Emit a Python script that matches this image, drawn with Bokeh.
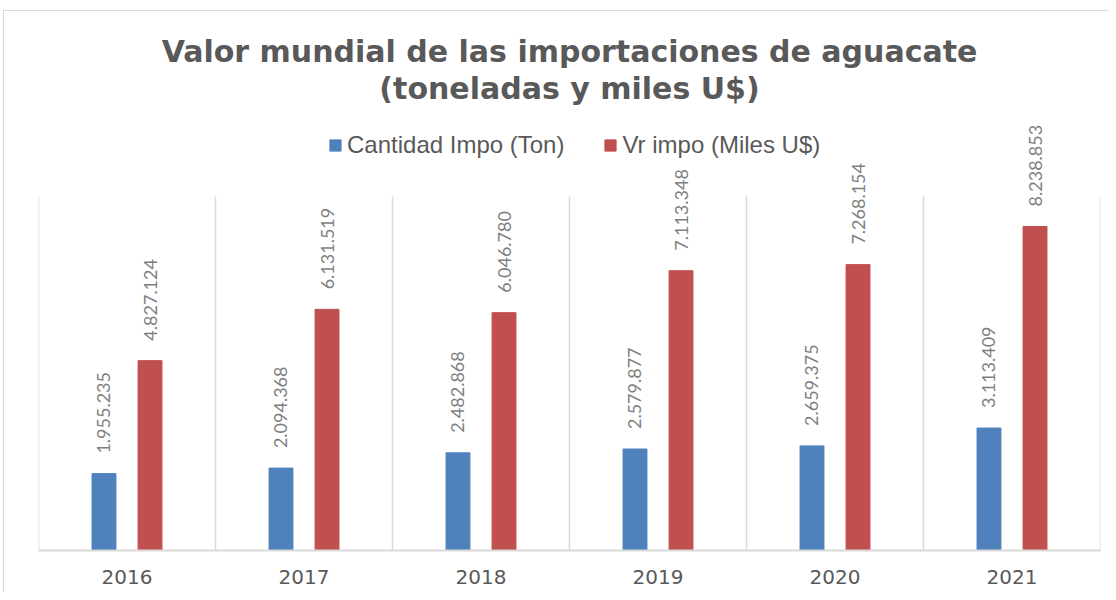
import numpy as np
from bokeh.plotting import figure
from bokeh.models import (ColumnDataSource, Range1d, FixedTicker, Label, Legend, LegendItem)
from bokeh.core.properties import value
from bokeh.embed import file_html
from bokeh.resources import INLINE

years = ["2016", "2017", "2018", "2019", "2020", "2021"]
cantidad = [1955235, 2094368, 2482868, 2579877, 2659375, 3113409]
valor = [4827124, 6131519, 6046780, 7113348, 7268154, 8238853]
series_names = ["Cantidad Impo (Ton)", "Vr impo (Miles U$)"]
title_lines = ["Valor mundial de las importaciones de aguacate", "(toneladas y miles U$)"]

BLUE = "#4F81BD"
RED = "#C0504D"
GRID = "#d9d9d9"
TXT = "#595959"

Y_MAX = 9000000          # top of the value axis (where the gridlines end)
GRID_PX = 354            # pixel height of the gridded plot area
FRAME_PX = 539           # frame height incl. title/legend space
PX = Y_MAX / GRID_PX     # data units per pixel

def fmt(v):
    return f"{v:,}".replace(",", ".")

idx = np.arange(len(years)) + 0.5
src = ColumnDataSource(dict(
    xb=idx - 0.13, xr=idx + 0.13,
    cant=cantidad, val=valor,
    lc=[fmt(v) for v in cantidad], lv=[fmt(v) for v in valor],
))

p = figure(width=1105, height=582, output_backend="svg", toolbar_location=None,
           x_range=Range1d(0, len(years)), y_range=Range1d(0, FRAME_PX * PX),
           min_border_left=34, min_border_right=9, min_border_top=0, min_border_bottom=43)
p.styles = {"border-left": "1px solid #d9d9d9", "border-top": "1px solid #d9d9d9",
            "margin-left": "3px", "margin-top": "10px"}
p.outline_line_color = None
p.background_fill_color = "white"
p.border_fill_color = "white"
p.xgrid.visible = False
p.ygrid.visible = False
p.yaxis.visible = False

# category separators (vertical gridlines)
bounds = list(range(len(years) + 1))
p.segment(x0=bounds, y0=[0] * len(bounds), x1=bounds, y1=[Y_MAX] * len(bounds),
          line_color=GRID, line_width=1.5)

rb = p.vbar(x="xb", top="cant", width=0.135, source=src, color=BLUE)
rr = p.vbar(x="xr", top="val", width=0.135, source=src, color=RED)

for xcol, ycol, tcol in [("xb", "cant", "lc"), ("xr", "val", "lv")]:
    p.text(x=xcol, y=ycol, text=tcol, source=src, angle=np.pi / 2,
           text_align="left", text_baseline="middle", y_offset=-20,
           text_font=value("Lato"), text_font_size="18px", text_color="#7f7f7f")

p.xaxis.ticker = FixedTicker(ticks=list(idx))
p.xaxis.major_label_overrides = {float(x): y for x, y in zip(idx, years)}
p.xaxis.axis_line_color = GRID
p.xaxis.axis_line_width = 2
p.xaxis.major_tick_line_color = None
p.xaxis.minor_tick_line_color = None
p.xaxis.major_label_standoff = 13
p.xaxis.major_label_text_font = "DejaVu Sans"
p.xaxis.major_label_text_font_size = "20px"
p.xaxis.major_label_text_color = TXT

for line, py in zip(title_lines, [499, 462]):
    p.add_layout(Label(x=len(years) / 2, y=py * PX, text=line,
                       text_align="center", text_baseline="middle",
                       text_font="DejaVu Sans", text_font_style="bold",
                       text_font_size="30px", text_color=TXT))

legend = Legend(items=[LegendItem(label=series_names[0], renderers=[rb]),
                       LegendItem(label=series_names[1], renderers=[rr])],
                orientation="horizontal", location=(290, 391),
                padding=0, margin=0, spacing=39, label_standoff=5,
                glyph_width=14, glyph_height=14,
                label_text_font="Liberation Sans", label_text_font_size="24px",
                label_text_color=TXT, border_line_color=None,
                background_fill_alpha=0)
p.add_layout(legend)

open("out.html", "w").write(file_html(p, INLINE))
